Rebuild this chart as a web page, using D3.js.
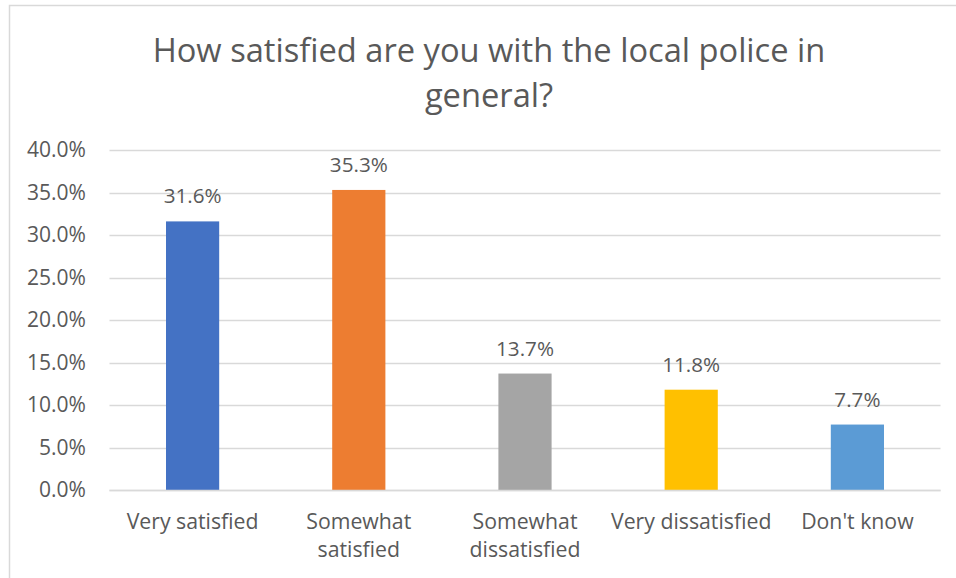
<!DOCTYPE html>
<html><head><meta charset="utf-8">
<script src="https://cdn.jsdelivr.net/npm/d3@7"></script>
<style>
html,body{margin:0;padding:0;background:#fff;}
svg{display:block;}
text{font-family:"Open Sans","Noto Sans",sans-serif;fill:#595959;}
</style></head>
<body>
<svg id="chart" width="956" height="578"></svg>
<script>
const titleLines = ["How satisfied are you with the local police in", "general?"];
const categories = ["Very satisfied", "Somewhat satisfied", "Somewhat dissatisfied", "Very dissatisfied", "Don't know"];
const categoryLabels = [["Very satisfied"], ["Somewhat", "satisfied"], ["Somewhat", "dissatisfied"], ["Very dissatisfied"], ["Don't know"]];
const values = [31.6, 35.3, 13.7, 11.8, 7.7];
const colors = ["#4472C4", "#ED7D31", "#A5A5A5", "#FFC000", "#5B9BD5"];
const yTicks = [0, 5, 10, 15, 20, 25, 30, 35, 40];

const svg = d3.select("#chart");
const W = 956, H = 578;
const plot = {left: 109.5, right: 940.5, top: 150, bottom: 490};

// outer chart border (extends beyond the frame on the right/bottom)
svg.append("rect").attr("x", 9.5).attr("y", 5.5).attr("width", 1000).attr("height", 1000)
  .attr("fill", "none").attr("stroke", "#D9D9D9").attr("stroke-width", 1.5);

function fitSize(sel, target) {
  // adjust font size so first element width matches target
  const node = sel.node();
  const fs = parseFloat(sel.attr("font-size"));
  const w = node.getComputedTextLength();
  return fs * target / w;
}

const x = d3.scaleBand().domain(categories).range([plot.left, plot.right])
  .paddingInner(0.68).paddingOuter(0.34);
const y = d3.scaleLinear().domain([0, 40]).range([plot.bottom, plot.top]);

// title
const t1 = svg.append("text").attr("x", 489).attr("y", 62).attr("text-anchor", "middle")
  .attr("font-size", 30).text(titleLines[0]);
const tfs = fitSize(t1, 673);
t1.attr("font-size", tfs);
svg.append("text").attr("x", 489).attr("y", 107).attr("text-anchor", "middle")
  .attr("font-size", tfs).text(titleLines[1]);

// gridlines
svg.append("g").selectAll("line").data(yTicks).join("line")
  .attr("x1", plot.left).attr("x2", plot.right)
  .attr("y1", d => Math.round(y(d)) + 0.5).attr("y2", d => Math.round(y(d)) + 0.5)
  .attr("stroke", "#D9D9D9").attr("stroke-width", 1.5);

// y axis labels
const yAxis = d3.axisLeft(y).tickValues(yTicks).tickSize(0).tickPadding(0)
  .tickFormat(d => d.toFixed(1) + "%");
const gy = svg.append("g").attr("transform", `translate(86,0)`).call(yAxis);
gy.select(".domain").remove();
gy.selectAll("text").attr("font-size", 18).style("font-family", null).attr("fill", "#595959");
const ytxt = gy.selectAll("text").filter(d => d === 40);
const yfs = fitSize(ytxt, 59);
gy.selectAll("text").attr("font-size", yfs);
gy.attr("font-family", null).attr("font-size", null);

// bars
svg.append("g").selectAll("rect").data(values).join("rect")
  .attr("x", (d, i) => x(categories[i]))
  .attr("width", x.bandwidth())
  .attr("y", d => y(d))
  .attr("height", d => y(0) - y(d))
  .attr("fill", (d, i) => colors[i]);

// axis baseline redraw over bars
svg.append("line").attr("x1", plot.left).attr("x2", plot.right)
  .attr("y1", y(0) + 0.5).attr("y2", y(0) + 0.5).attr("stroke", "#D9D9D9").attr("stroke-width", 1.5);

// data labels
const dl = svg.append("g").selectAll("text").data(values).join("text")
  .attr("x", (d, i) => x(categories[i]) + x.bandwidth() / 2)
  .attr("y", d => y(d) - 18)
  .attr("text-anchor", "middle").attr("font-size", 18)
  .attr("fill", "#404040")
  .text(d => d.toFixed(1) + "%");
const dfs = fitSize(d3.select(dl.nodes()[0]), 58);
dl.attr("font-size", dfs);

// category labels
const xAxis = d3.axisBottom(x).tickSize(0).tickFormat("");
const gx = svg.append("g").attr("transform", `translate(0,${plot.bottom})`).call(xAxis);
gx.select(".domain").remove();
const cl = svg.append("g").selectAll("text").data(categories).join("text")
  .attr("x", d => x(d) + x.bandwidth() / 2)
  .attr("y", 529)
  .attr("text-anchor", "middle").attr("font-size", 18);
cl.selectAll("tspan").data((d, i) => categoryLabels[i]).join("tspan")
  .attr("x", function() { return d3.select(this.parentNode).attr("x"); })
  .attr("dy", (d, j) => j === 0 ? 0 : 28)
  .text(d => d);
const cfs = fitSize(d3.select(cl.nodes()[0]), 132);
cl.attr("font-size", cfs);
</script>
</body></html>
